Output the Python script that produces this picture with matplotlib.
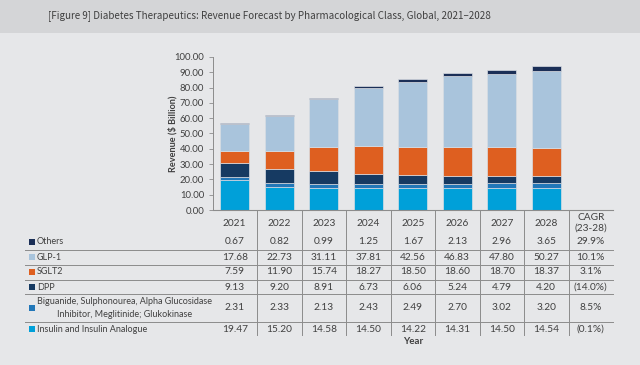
import matplotlib
matplotlib.use("Agg")
import matplotlib.pyplot as plt
from matplotlib.patches import Rectangle
from matplotlib.lines import Line2D
import numpy as np

years = ["2021", "2022", "2023", "2024", "2025", "2026", "2027", "2028"]
insulin = [19.47, 15.20, 14.58, 14.50, 14.22, 14.31, 14.50, 14.54]
biguanide = [2.31, 2.33, 2.13, 2.43, 2.49, 2.70, 3.02, 3.20]
dpp = [9.13, 9.20, 8.91, 6.73, 6.06, 5.24, 4.79, 4.20]
sglt2 = [7.59, 11.90, 15.74, 18.27, 18.50, 18.60, 18.70, 18.37]
glp1 = [17.68, 22.73, 31.11, 37.81, 42.56, 46.83, 47.80, 50.27]
others = [0.67, 0.82, 0.99, 1.25, 1.67, 2.13, 2.96, 3.65]
cagr_others = "29.9%"
cagr_glp1 = "10.1%"
cagr_sglt2 = "3.1%"
cagr_dpp = "(14.0%)"
cagr_biguanide = "8.5%"
cagr_insulin = "(0.1%)"

names = ["Insulin and Insulin Analogue",
         "Biguanide, Sulphonourea, Alpha Glucosidase\nInhibitor, Meglitinide; Glukokinase",
         "DPP", "SGLT2", "GLP-1", "Others"]
colors = ["#00a0d9", "#2277b8", "#163a62", "#de5f20", "#a9c4dc", "#1b2f57"]
series = [insulin, biguanide, dpp, sglt2, glp1, others]
cagrs = [cagr_insulin, cagr_biguanide, cagr_dpp, cagr_sglt2, cagr_glp1, cagr_others]

W, H = 640, 365
fig = plt.figure(figsize=(W / 100, H / 100), dpi=100)
fig.patch.set_facecolor("#e6e7e9")
FONT = "Lato"
TXT = "#404040"

def fx(px):
    return px / W

def fy(py):
    return 1 - py / H

# title band
fig.patches.append(Rectangle((0, fy(33)), 1, 33 / H, transform=fig.transFigure,
                             facecolor="#d4d5d7", edgecolor="none", zorder=0))
fig.text(fx(48), fy(15.5), "[Figure 9] Diabetes Therapeutics: Revenue Forecast by Pharmacological Class, Global, 2021\u20132028",
         family=["Noto Sans CJK KR", "DejaVu Sans"], fontsize=7.1, color="#404040",
         ha="left", va="center")

x_left, x_right = 212.5, 613
y_top, y_bot = 57, 210
ax = fig.add_axes([fx(x_left), fy(y_bot), fx(x_right - x_left), (y_bot - y_top) / H])
ax.set_facecolor("none")
ncat = 9
ax.set_xlim(-0.5, ncat - 0.5)
ax.set_ylim(0, 100)
x = np.arange(len(years))
bottom = np.zeros(len(years))
for vals, col in zip(series, colors):
    ax.bar(x, vals, width=0.65, bottom=bottom, color=col, edgecolor="#d8dde3", linewidth=0.5)
    bottom += np.array(vals)

ax.set_yticks(np.arange(0, 101, 10))
ax.set_yticklabels([f"{v:.2f}" for v in np.arange(0, 101, 10)], family=FONT, fontsize=6.8, color=TXT)
ax.set_xticks([])
ax.tick_params(axis="y", length=3, width=0.6, color="#8c8c8c", pad=3)
for s in ["top", "right"]:
    ax.spines[s].set_visible(False)
ax.spines["left"].set_color("#8c8c8c")
ax.spines["bottom"].set_color("#8c8c8c")
ax.spines["left"].set_linewidth(0.7)
ax.spines["bottom"].set_linewidth(0.8)
ax.set_ylabel("Revenue ($ Billion)", family=FONT, fontsize=6.6, fontweight="bold", color=TXT, labelpad=-2)

# table
step = (x_right - x_left) / ncat
def col_px(i):
    return x_left + step * (i + 0.5)

line_col = "#8c8c8c"
for i in range(1, ncat):
    xp = x_left + step * i
    fig.add_artist(Line2D([fx(xp), fx(xp)], [fy(210), fy(335)], transform=fig.transFigure,
                          color=line_col, lw=0.7))
for yp in [250, 265, 280, 294, 322]:
    fig.add_artist(Line2D([fx(25), fx(613)], [fy(yp), fy(yp)], transform=fig.transFigure,
                          color=line_col, lw=0.7))

fs = 7.3
fsn = 6.5
for i, yr in enumerate(years):
    fig.text(fx(col_px(i)), fy(223), yr, family=FONT, fontsize=fs, color=TXT, ha="center", va="center")
fig.text(fx(col_px(8)), fy(222.5), "CAGR\n(23-28)", family=FONT, fontsize=fs, color=TXT,
         ha="center", va="center", multialignment="center", linespacing=1.2)

row_y = {5: 242, 4: 257, 3: 272, 2: 287, 1: 308, 0: 329}
for k in range(6):
    yp = row_y[k]
    sq = 5.5
    fig.patches.append(Rectangle((fx(29), fy(yp + sq / 2)), sq / W, sq / H, transform=fig.transFigure,
                                 facecolor=colors[k], edgecolor="none"))
    fig.text(fx(37), fy(yp), names[k], family=FONT, fontsize=fsn, color=TXT, ha="left", va="center",
             multialignment="center", linespacing=1.45)
    for i in range(len(years)):
        fig.text(fx(col_px(i)), fy(yp), f"{series[k][i]:.2f}", family=FONT, fontsize=fs, color=TXT,
                 ha="center", va="center")
    fig.text(fx(col_px(8)), fy(yp), cagrs[k], family=FONT, fontsize=fs, color=TXT, ha="center", va="center")

fig.text(fx(413), fy(342), "Year", family=FONT, fontsize=7, fontweight="bold", color=TXT,
         ha="center", va="center")

fig.savefig("out.png", dpi=100, facecolor=fig.get_facecolor())
